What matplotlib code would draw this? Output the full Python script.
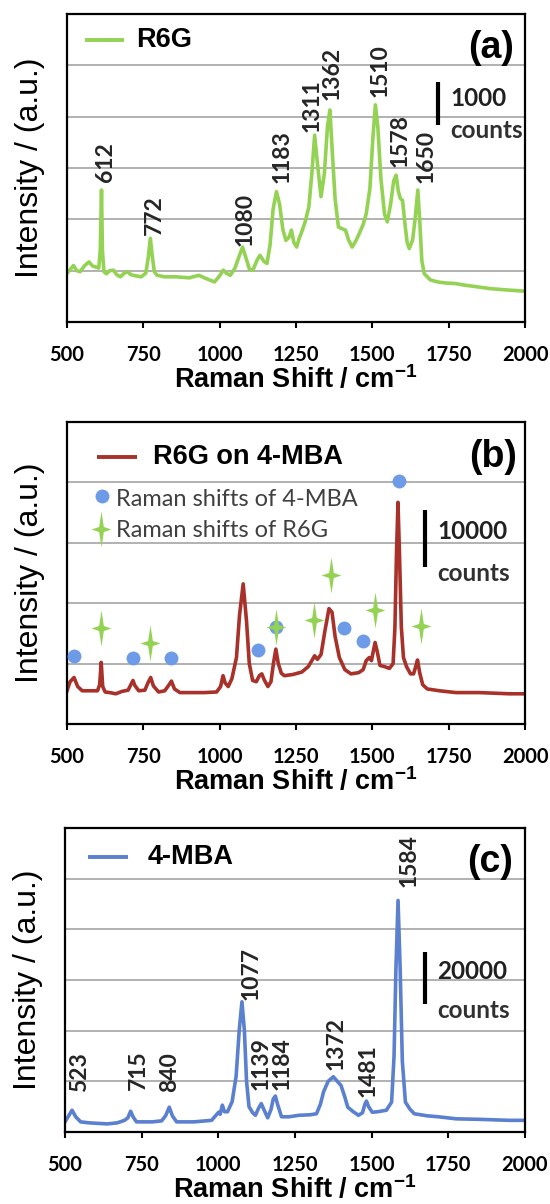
import numpy as np
import matplotlib.pyplot as plt
from matplotlib.path import Path

plt.rcParams['mathtext.fontset'] = 'custom'
plt.rcParams['mathtext.bf'] = 'Liberation Sans:bold'
plt.rcParams['mathtext.rm'] = 'Liberation Sans'

# colours
green = '#94D254'
red = '#A8322A'
blue = '#5A80CF'
dot_blue = '#6E9BE8'
grid_grey = '#ABABAB'

# ---- panel (a): R6G  (y in grid units, 1 unit ~ 1170 counts)
a_x = [500, 510, 521, 532, 543, 558, 572, 584, 595, 604, 609, 613, 616, 621,
       629, 640, 652, 663, 675, 687, 698, 710, 725, 743, 758, 766, 773, 779,
       786, 795, 820, 858, 900, 932, 950, 983, 1000, 1012, 1022, 1035, 1050,
       1062, 1075, 1086, 1098, 1109, 1122, 1132, 1145, 1155, 1165, 1175, 1186,
       1196, 1207, 1217, 1227, 1235, 1243, 1252, 1260, 1269, 1280, 1292, 1302,
       1311, 1320, 1332, 1343, 1353, 1361, 1368, 1378, 1389, 1400, 1412, 1422,
       1434, 1446, 1457, 1470, 1480, 1492, 1502, 1510, 1518, 1528, 1540, 1549,
       1560, 1570, 1578, 1585, 1592, 1599, 1607, 1614, 1621, 1632, 1640, 1649,
       1655, 1662, 1670, 1690, 1714, 1740, 1771, 1800, 1850, 1886, 1950, 2000]
a_y = [0.95, 1.02, 1.10, 1.00, 0.98, 1.10, 1.17, 1.09, 1.07, 1.05, 1.40, 2.57,
       1.40, 0.98, 0.94, 1.00, 1.01, 0.92, 0.88, 0.95, 0.98, 0.92, 0.90, 0.88,
       0.95, 1.25, 1.63, 1.30, 0.98, 0.91, 0.88, 0.88, 0.86, 0.91, 0.86, 0.78,
       0.90, 1.01, 0.95, 0.91, 1.05, 1.25, 1.46, 1.25, 1.02, 1.01, 1.20, 1.30,
       1.18, 1.14, 1.50, 2.20, 2.54, 2.30, 1.80, 1.59, 1.65, 1.79, 1.55, 1.46,
       1.62, 1.76, 1.95, 2.24, 2.90, 3.64, 3.10, 2.44, 2.90, 3.80, 4.13, 3.40,
       2.40, 1.85, 1.82, 1.79, 1.60, 1.46, 1.58, 1.72, 1.90, 2.11, 2.60, 3.60,
       4.23, 3.80, 2.80, 2.10, 1.95, 2.30, 2.75, 2.86, 2.55, 2.40, 2.37, 1.90,
       1.55, 1.43, 1.60, 2.00, 2.57, 2.00, 1.20, 0.94, 0.82, 0.78, 0.76, 0.75,
       0.72, 0.68, 0.65, 0.62, 0.60]
a_peaks = [612, 772, 1080, 1183, 1311, 1362, 1510, 1578, 1650]
a_peak_h = [2.57, 1.63, 1.46, 2.54, 3.64, 4.13, 4.23, 2.86, 2.57]

# ---- panel (b): R6G on 4-MBA  (1 unit ~ 11800 counts)
b_x = [500, 510, 523, 535, 550, 580, 600, 607, 612, 617, 625, 640, 660, 680,
       700, 710, 716, 722, 735, 755, 765, 774, 783, 800, 820, 833, 842, 852,
       870, 900, 950, 990, 1003, 1011, 1018, 1028, 1040, 1055, 1065, 1077,
       1088, 1097, 1108, 1120, 1130, 1138, 1146, 1158, 1168, 1176, 1184, 1192,
       1202, 1212, 1240, 1269, 1290, 1302, 1311, 1320, 1332, 1345, 1358, 1368,
       1378, 1392, 1410, 1430, 1455, 1470, 1480, 1490, 1497, 1503, 1509, 1516,
       1525, 1540, 1556, 1568, 1574, 1579, 1584, 1589, 1595, 1602, 1612, 1625,
       1635, 1642, 1648, 1655, 1665, 1680, 1720, 1774, 1850, 1950, 2000]
b_y = [0.55, 0.70, 0.77, 0.62, 0.55, 0.55, 0.55, 0.65, 1.02, 0.62, 0.53, 0.52,
       0.50, 0.54, 0.56, 0.66, 0.72, 0.64, 0.55, 0.56, 0.68, 0.77, 0.63, 0.53,
       0.55, 0.64, 0.71, 0.58, 0.52, 0.52, 0.52, 0.53, 0.62, 0.80, 0.68, 0.62,
       0.75, 1.10, 1.80, 2.32, 1.70, 1.00, 0.72, 0.70, 0.80, 0.83, 0.73, 0.62,
       0.70, 1.00, 1.24, 1.00, 0.84, 0.80, 0.82, 0.86, 0.95, 1.05, 1.13, 1.07,
       1.15, 1.55, 1.91, 1.85, 1.45, 1.10, 0.90, 0.83, 0.85, 0.90, 1.05, 1.10,
       1.05, 1.20, 1.35, 1.20, 0.97, 0.95, 0.92, 1.00, 1.60, 2.80, 3.67, 2.80,
       1.60, 1.10, 0.95, 0.83, 0.83, 0.95, 1.06, 0.85, 0.65, 0.58, 0.55, 0.52,
       0.52, 0.50, 0.50]
mba_x = [523, 716, 839, 1125, 1183, 1407, 1470, 1588]
mba_y = [1.13, 1.10, 1.10, 1.22, 1.60, 1.59, 1.37, 4.03]
r6g_x = [612, 773, 1183, 1309, 1364, 1508, 1659]
r6g_y = [1.59, 1.34, 1.60, 1.72, 2.47, 1.89, 1.63]

# ---- panel (c): 4-MBA  (1 unit ~ 19700 counts)
c_x = [500, 510, 523, 535, 551, 580, 637, 670, 694, 705, 714, 722, 733, 785,
       815, 828, 840, 850, 864, 920, 978, 1001, 1006, 1013, 1020, 1030, 1045,
       1058, 1068, 1077, 1085, 1092, 1100, 1112, 1121, 1132, 1140, 1148, 1161,
       1172, 1179, 1186, 1193, 1206, 1230, 1263, 1300, 1320, 1333, 1343, 1358,
       1375, 1388, 1400, 1412, 1422, 1440, 1457, 1470, 1478, 1483, 1490, 1502,
       1520, 1548, 1565, 1573, 1579, 1586, 1593, 1600, 1610, 1625, 1639, 1680,
       1718, 1776, 1850, 1950, 2000]
c_y = [0.20, 0.30, 0.43, 0.30, 0.20, 0.18, 0.16, 0.18, 0.23, 0.28, 0.41, 0.30,
       0.20, 0.20, 0.22, 0.32, 0.49, 0.32, 0.20, 0.20, 0.23, 0.39, 0.35, 0.53,
       0.40, 0.40, 0.60, 1.10, 2.00, 2.57, 2.00, 1.00, 0.50, 0.38, 0.33, 0.48,
       0.56, 0.45, 0.28, 0.45, 0.65, 0.71, 0.55, 0.30, 0.30, 0.33, 0.34, 0.36,
       0.55, 0.79, 1.00, 1.09, 1.00, 0.92, 0.70, 0.49, 0.40, 0.33, 0.38, 0.55,
       0.61, 0.50, 0.39, 0.40, 0.43, 0.59, 1.50, 3.20, 4.57, 3.20, 1.40, 0.59,
       0.45, 0.36, 0.32, 0.30, 0.26, 0.25, 0.23, 0.23]
c_peaks = [523, 715, 840, 1077, 1139, 1184, 1372, 1481, 1584]

# sparkle marker for R6G shifts
star = Path([(0, 1), (0.13, 0.14), (0.55, 0), (0.13, -0.14), (0, -1),
             (-0.13, -0.14), (-0.55, 0), (-0.13, 0.14), (0, 1)])

W, H = 550, 1204
fig = plt.figure(figsize=(W / 100, H / 100), dpi=100)


def make_axes(left, top, right, bottom, ymax):
    ax = fig.add_axes([left / W, 1 - bottom / H, (right - left) / W,
                       (bottom - top) / H])
    ax.set_xlim(500, 2000)
    ax.set_ylim(0, ymax)
    for y in range(1, ymax):
        ax.axhline(y, color=grid_grey, lw=1.3, zorder=0)
    ax.set_xticks(np.arange(500, 2001, 250))
    ax.set_yticks([])
    ax.tick_params(axis='x', direction='out', length=4.5, width=1.5, pad=12)
    for lab in ax.get_xticklabels():
        lab.set_fontfamily('Lato')
        lab.set_fontweight('bold')
        lab.set_fontsize(14.5)
    for s in ax.spines.values():
        s.set_linewidth(1.6)
    ax.set_xlabel(r'Raman Shift / cm$^{\mathbf{-1}}$', family='Liberation Sans',
                  fontweight='bold', fontsize=19.5, labelpad=0)
    ax.set_ylabel('Intensity / (a.u.)', family='Liberation Sans', fontsize=23)
    ax.yaxis.set_label_coords(-0.048, 0.5)
    return ax


def legend_line(ax, x0, x1, y, color, text, tx):
    ax.plot([x0, x1], [y, y], color=color, lw=2.8, transform=ax.transAxes,
            solid_capstyle='butt')
    ax.text(tx, y, text, transform=ax.transAxes, fontsize=19.5,
            fontweight='bold', family='Liberation Sans', va='center')


def scale_bar(ax, x, y0, y1, num):
    ax.plot([x, x], [y0, y1], color='black', lw=3, solid_capstyle='butt')
    tx = x + 42
    ax.text(tx, y0 + (y1 - y0) * 0.62, num, fontsize=17.5, fontweight='bold',
            family='Lato', va='center', color='#202020')
    ax.text(tx, y0 - (y1 - y0) * 0.12, 'counts', fontsize=17.5,
            fontweight='bold', family='Lato', va='center', color='#303030')


def panel_tag(ax, tag, x, y):
    ax.text(x, y, tag, transform=ax.transAxes, fontsize=27,
            fontweight='bold', family='Liberation Sans', ha='right',
            va='center')


def peak_label(ax, x, y, text):
    ax.text(x, y, text, rotation=90, ha='center', va='bottom',
            fontsize=16.5, family='Lato', fontweight='bold', color='#252525')


# ---------------- (a)
ax = make_axes(67, 14, 525, 322, 6)
ax.plot(a_x, a_y, color=green, lw=2.6, solid_joinstyle='round')
legend_line(ax, 0.04, 0.124, 0.915, green, 'R6G', 0.151)
panel_tag(ax, '(a)', 0.977, 0.89)
a_dx = [14, 14, 2, 22, -8, 6, 16, 12, 26]
a_dy = [0.16, 0.06, 0.02, 0.16, 0.06, 0.19, 0.16, 0.16, 0.13]
for p, h, dx, dy in zip(a_peaks, a_peak_h, a_dx, a_dy):
    peak_label(ax, p + dx, h + dy, str(p))
scale_bar(ax, 1714, 3.84, 4.68, '1000')

# ---------------- (b)
ax = make_axes(67, 422, 525, 724, 5)
ax.plot(b_x, b_y, color=red, lw=2.6, solid_joinstyle='round', zorder=2)
ax.plot(mba_x, mba_y, 'o', color=dot_blue, ms=10, mec='none', zorder=3)
ax.plot(r6g_x, r6g_y, marker=star, ls='none', color=green, ms=26, mec='none',
        zorder=3)
legend_line(ax, 0.065, 0.153, 0.884, red, 'R6G on 4-MBA', 0.187)
ax.plot([0.077], [0.754], 'o', color=dot_blue, ms=10, mec='none',
        transform=ax.transAxes)
ax.plot([0.074], [0.646], marker=star, color=green, ms=26, mec='none',
        transform=ax.transAxes)
ax.text(0.107, 0.742, 'Raman shifts of 4-MBA', transform=ax.transAxes,
        fontsize=17, family='Lato', color='#404040', va='center')
ax.text(0.107, 0.640, 'Raman shifts of R6G', transform=ax.transAxes,
        fontsize=17, family='Lato', color='#404040', va='center')
panel_tag(ax, '(b)', 0.983, 0.884)
scale_bar(ax, 1671, 2.60, 3.54, '10000')

# ---------------- (c)
ax = make_axes(65, 828, 525, 1132, 6)
ax.plot(c_x, c_y, color=blue, lw=2.6, solid_joinstyle='round')
legend_line(ax, 0.049, 0.137, 0.905, blue, '4-MBA', 0.179)
panel_tag(ax, '(c)', 0.973, 0.887)
c_lab_y = [0.79, 0.82, 0.79, 2.60, 0.82, 0.82, 1.22, 0.69, 4.84]
c_dx = [23, 24, 0, 30, 1, 24, 11, 8, 38]
for p, ly, dx in zip(c_peaks, c_lab_y, c_dx):
    peak_label(ax, p + dx, ly, str(p))
scale_bar(ax, 1673, 2.53, 3.55, '20000')

fig.savefig('out.png', dpi=100)
